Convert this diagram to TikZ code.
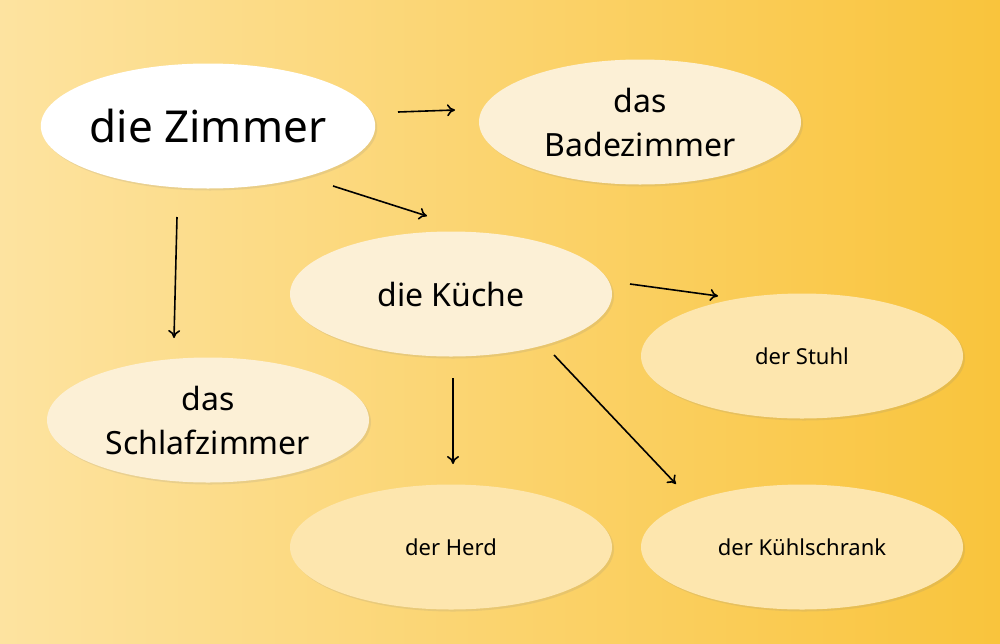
\documentclass[tikz,border=0pt]{standalone}
\usepackage{fontspec}
\setmainfont{Noto Sans}
\usetikzlibrary{shapes.geometric,shadows,arrows.meta}
\definecolor{bgA}{HTML}{FDE3A0}
\definecolor{bgB}{HTML}{F9C43C}
\definecolor{creamA}{HTML}{FCF0D6}
\definecolor{creamB}{HTML}{FDE6AE}
\begin{document}
\begin{tikzpicture}[x=1pt,y=-1pt,
 el/.style={ellipse,minimum width=322pt,minimum height=125pt,inner sep=0pt,align=center,
   drop shadow={shadow xshift=2pt,shadow yshift=-2pt,opacity=0.15}},
 big/.style={el,font=\fontsize{44}{50}\selectfont},
 mid/.style={el,font=\fontsize{32}{44}\selectfont,fill=creamA},
 sm/.style={el,font=\fontsize{22}{26}\selectfont,fill=creamB},
 ar/.style={-{To[length=8pt,width=12pt]},line width=1.6pt}]
\shade[left color=bgA, right color=bgB] (0,0) rectangle (1000,643);
\useasboundingbox (0,0) rectangle (1000,643);
\node[big,fill=white,minimum width=325pt] (zi) at (208,126) {die Zimmer};
\node[mid] (bad) at (640,122) {das\\Badezimmer};
\node[mid] (ku) at (451,294) {die Küche};
\node[sm] (st) at (802,356) {der Stuhl};
\node[mid] (sch) at (208,420) {das\\Schlafzimmer};
\node[sm] (he) at (451,547) {der Herd};
\node[sm] (kue) at (802,547) {der Kühlschrank};
\coordinate (a1) at (398,112); \coordinate (b1) at (455,110);
\coordinate (a2) at (333,186); \coordinate (b2) at (427,216);
\coordinate (a3) at (177,217); \coordinate (b3) at (174,338);
\coordinate (a4) at (630,284); \coordinate (b4) at (718,296);
\coordinate (a5) at (453,378); \coordinate (b5) at (453,464);
\coordinate (a6) at (554,355); \coordinate (b6) at (676,484);
\foreach \i in {1,...,6}{\draw[ar] (a\i) -- (b\i);}
\end{tikzpicture}
\end{document}
